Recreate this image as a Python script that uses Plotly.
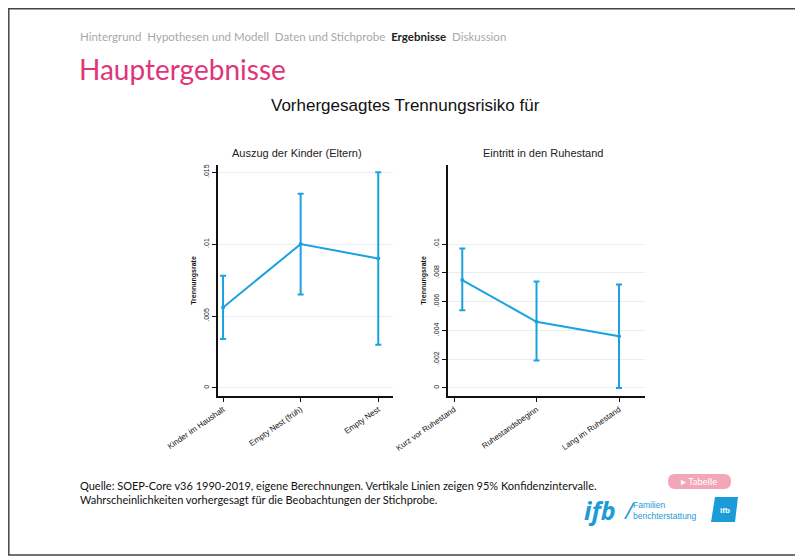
import plotly.graph_objects as go

# the page body adds an 8px margin, so the figure is a bit smaller than the window
OFF = 8
W, H = 795, 551

# data
kinder_labels = ["Kinder im Haushalt", "Empty Nest (früh)", "Empty Nest"]
kinder_x = [0, 1, 2]
kinder_est = [0.0056, 0.0100, 0.0090]
kinder_lo = [0.0034, 0.0065, 0.0030]
kinder_hi = [0.0078, 0.0135, 0.0150]

ruhe_labels = ["Kurz vor Ruhestand", "Ruhestandsbeginn", "Lang im Ruhestand"]
ruhe_x = [0.1, 1, 2]
ruhe_est = [0.0075, 0.0046, 0.0036]
ruhe_lo = [0.0054, 0.0019, 0.0000]
ruhe_hi = [0.0097, 0.0074, 0.0072]

left_ticks = [0, 0.005, 0.01, 0.015]
left_ticktext = ["0", ".005", ".01", ".015"]
right_ticks = [0, 0.002, 0.004, 0.006, 0.008, 0.01]
right_ticktext = ["0", ".002", ".004", ".006", ".008", ".01"]

BLUE = "#1aa3df"
PINK = "#e0357a"


def px(x):
    # screen pixel -> paper x
    return (x - OFF) / W


def py(y):
    # screen pixel -> paper y
    return 1 - (y - OFF) / H


fig = go.Figure()


def add_series(xs, est, lo, hi, xa, ya):
    fig.add_trace(go.Scatter(
        x=xs, y=est, mode="lines+markers", xaxis=xa, yaxis=ya,
        line=dict(color=BLUE, width=2), marker=dict(color=BLUE, size=4),
        error_y=dict(type="data", symmetric=False,
                     array=[h - e for h, e in zip(hi, est)],
                     arrayminus=[e - l for e, l in zip(est, lo)],
                     color=BLUE, thickness=2, width=3),
        showlegend=False, hoverinfo="skip"))


add_series(kinder_x, kinder_est, kinder_lo, kinder_hi, "x", "y")
add_series(ruhe_x, ruhe_est, ruhe_lo, ruhe_hi, "x2", "y2")

yrange = [-0.00056, 0.0155]
tickfont = dict(family="Liberation Sans", size=7, color="#222")
common_y = dict(range=yrange, showline=True, linecolor="#111", linewidth=1.5,
                ticks="outside", ticklen=4, tickcolor="#111", tickangle=-90,
                tickfont=tickfont, showgrid=True, gridcolor="#e6f0f2", gridwidth=1,
                zeroline=False, automargin=False,
                title=dict(text="<b>Trennungsrate</b>", standoff=6,
                           font=dict(family="Liberation Sans", size=7, color="#111")))
common_x = dict(showline=True, linecolor="#111", linewidth=1.5, ticks="outside",
                ticklen=4, tickcolor="#111", tickangle=-35, showgrid=False,
                zeroline=False, automargin=False,
                tickfont=dict(family="Liberation Sans", size=8, color="#111"))

fig.update_layout(
    width=W, height=H,
    margin=dict(l=0, r=0, t=0, b=0, pad=0, autoexpand=False),
    paper_bgcolor="white", plot_bgcolor="white",
    showlegend=False,
    xaxis=dict(domain=[px(218), px(393)], range=[-0.065, 2.19], anchor="y",
               tickvals=kinder_x, ticktext=kinder_labels, **common_x),
    yaxis=dict(domain=[py(396), py(165)], anchor="x",
               tickvals=left_ticks, ticktext=left_ticktext, **common_y),
    xaxis2=dict(domain=[px(448), px(645)], range=[-0.073, 2.315], anchor="y2",
                tickvals=[0, 1, 2], ticktext=ruhe_labels, **common_x),
    yaxis2=dict(domain=[py(396), py(165)], anchor="x2",
                tickvals=right_ticks, ticktext=right_ticktext, **common_y),
)

anns = []
nav = ("<span style='color:#a8a8a8'>Hintergrund&nbsp;&nbsp;Hypothesen und Modell&nbsp;&nbsp;"
       "Daten und Stichprobe&nbsp;&nbsp;</span><b style='color:#222'>Ergebnisse</b>"
       "<span style='color:#a8a8a8'>&nbsp;&nbsp;Diskussion</span>")
anns.append(dict(x=px(78), y=py(37), text=nav, xanchor="left", yanchor="middle",
                 font=dict(family="Lato", size=11.5)))
anns.append(dict(x=px(77), y=py(69), text="Hauptergebnisse", xanchor="left", yanchor="middle",
                 font=dict(family="Lato", size=28, color=PINK)))
anns.append(dict(x=px(405), y=py(105), text="Vorhergesagtes Trennungsrisiko für",
                 xanchor="center", yanchor="middle",
                 font=dict(family="Liberation Sans", size=17, color="#111")))
anns.append(dict(x=px(297), y=py(153), text="Auszug der Kinder (Eltern)",
                 xanchor="center", yanchor="middle",
                 font=dict(family="Liberation Sans", size=11, color="#222")))
anns.append(dict(x=px(543), y=py(153), text="Eintritt in den Ruhestand",
                 xanchor="center", yanchor="middle",
                 font=dict(family="Liberation Sans", size=11, color="#222")))
anns.append(dict(x=px(78), y=py(492),
                 text="Quelle: SOEP-Core v36 1990-2019, eigene Berechnungen. Vertikale Linien zeigen 95% Konfidenzintervalle.<br>"
                      "Wahrscheinlichkeiten vorhergesagt für die Beobachtungen der Stichprobe.",
                 xanchor="left", yanchor="middle", align="left",
                 font=dict(family="Lato", size=11, color="#111")))
anns.append(dict(x=px(699), y=py(481), text="▸ Tabelle", xanchor="center", yanchor="middle",
                 font=dict(family="Lato", size=9.5, color="white")))
anns.append(dict(x=px(582), y=py(510), text="<b><i>ifb</i></b>", xanchor="left", yanchor="middle",
                 font=dict(family="Open Sans", size=25, color="#1b9bd7")))
anns.append(dict(x=px(622), y=py(510), text="<i>/</i>", xanchor="left", yanchor="middle",
                 font=dict(family="Open Sans", size=22, color="#1b9bd7")))
anns.append(dict(x=px(631), y=py(510), text="Familien<br>berichterstattung", xanchor="left",
                 yanchor="middle", align="left",
                 font=dict(family="Liberation Sans", size=8.5, color="#1b9bd7")))
anns.append(dict(x=px(725), y=py(510), text="<b>ifb</b>", xanchor="center", yanchor="middle",
                 font=dict(family="Liberation Sans", size=8, color="white")))
for a in anns:
    a.update(xref="paper", yref="paper", showarrow=False)
fig.update_layout(annotations=anns)

shapes = [
    # rounded "Tabelle" button
    dict(type="path", xref="paper", yref="paper",
         path=f"M {px(675)} {py(474)} L {px(724)} {py(474)} Q {px(731)} {py(474)} {px(731)} {py(481)} "
              f"Q {px(731)} {py(489)} {px(724)} {py(489)} L {px(675)} {py(489)} "
              f"Q {px(668)} {py(489)} {px(668)} {py(481)} Q {px(668)} {py(474)} {px(675)} {py(474)} Z",
         fillcolor="#f2a6b8", line=dict(width=0), layer="below"),
    # logo badge
    dict(type="path", xref="paper", yref="paper",
         path=f"M {px(715)} {py(497)} L {px(738)} {py(497)} L {px(735)} {py(522)} L {px(711)} {py(522)} Z",
         fillcolor="#1b9bd7", line=dict(width=0), layer="below"),
    # slide frame
    dict(type="rect", xref="paper", yref="paper", x0=px(8.8), x1=px(801.5), y0=py(555), y1=py(8.8),
         line=dict(color="#444", width=1.5), fillcolor="rgba(0,0,0,0)"),
]
fig.update_layout(shapes=shapes)

fig.write_html("out.html")
